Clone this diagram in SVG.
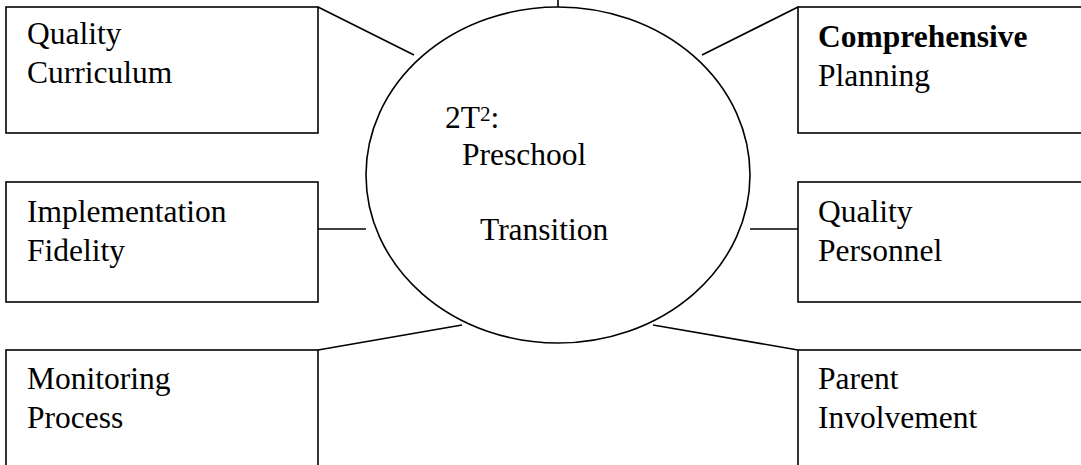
<svg xmlns="http://www.w3.org/2000/svg" width="1081" height="465" viewBox="0 0 1081 465">
  <style>
    .box { fill: #ffffff; stroke: #000000; stroke-width: 1.6; }
    .hub { fill: #ffffff; stroke: #000000; stroke-width: 1.6; }
    .link { stroke: #000000; stroke-width: 1.6; fill: none; }
    .label { font-family: "Liberation Serif", "Times New Roman", serif; font-size: 31.5px; fill: #000000; }
    .bold { font-weight: bold; }
  </style>
  <rect x="0" y="0" width="1081" height="465" fill="#ffffff"/>

  <!-- spokes from the hub to each component box -->
  <g id="connectors">
    <line class="link" x1="558" y1="-5" x2="558" y2="7"/>
    <line class="link" x1="318" y1="7" x2="414" y2="55"/>
    <line class="link" x1="798" y1="7" x2="702" y2="55"/>
    <line class="link" x1="318" y1="229" x2="366" y2="229"/>
    <line class="link" x1="750" y1="229" x2="798" y2="229"/>
    <line class="link" x1="318" y1="350" x2="462" y2="325"/>
    <line class="link" x1="798" y1="350" x2="653" y2="325"/>
  </g>

  <g id="hub">
    <ellipse class="hub" cx="558" cy="175" rx="192" ry="168"/>
    <text class="label" x="445" y="128">2T<tspan font-size="21px" dy="-7">2</tspan><tspan dy="7">:</tspan></text>
    <text class="label" x="462" y="165">Preschool</text>
    <text class="label" x="480" y="240">Transition</text>
  </g>

  <g id="quality-curriculum">
    <rect class="box" x="6" y="7" width="312" height="126"/>
    <text class="label" x="27" y="44">Quality</text>
    <text class="label" x="27" y="83">Curriculum</text>
  </g>

  <g id="comprehensive-planning">
    <rect class="box" x="798" y="7" width="320" height="126"/>
    <text class="label bold" x="818" y="47">Comprehensive</text>
    <text class="label" x="818" y="86">Planning</text>
  </g>

  <g id="implementation-fidelity">
    <rect class="box" x="6" y="182" width="312" height="120"/>
    <text class="label" x="27" y="222">Implementation</text>
    <text class="label" x="27" y="261">Fidelity</text>
  </g>

  <g id="quality-personnel">
    <rect class="box" x="798" y="182" width="320" height="120"/>
    <text class="label" x="818" y="222">Quality</text>
    <text class="label" x="818" y="261">Personnel</text>
  </g>

  <g id="monitoring-process">
    <rect class="box" x="6" y="350" width="312" height="140"/>
    <text class="label" x="27" y="389">Monitoring</text>
    <text class="label" x="27" y="428">Process</text>
  </g>

  <g id="parent-involvement">
    <rect class="box" x="798" y="350" width="320" height="140"/>
    <text class="label" x="818" y="389">Parent</text>
    <text class="label" x="818" y="428">Involvement</text>
  </g>
</svg>
